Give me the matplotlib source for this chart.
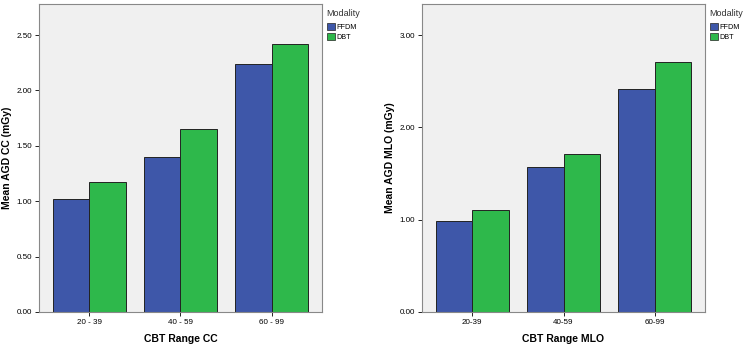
import numpy as np
import matplotlib
matplotlib.use("Agg")
import matplotlib.pyplot as plt
from matplotlib.patches import Patch

# CC view
cc_ranges = ["20 - 39", "40 - 59", "60 - 99"]
cc_ffdm = [1.02, 1.40, 2.24]
cc_dbt = [1.17, 1.65, 2.42]

# MLO view
mlo_ranges = ["20-39", "40-59", "60-99"]
mlo_ffdm = [0.99, 1.57, 2.41]
mlo_dbt = [1.11, 1.71, 2.71]

modalities = ["FFDM", "DBT"]
BLUE = "#3E57A9"
GREEN = "#2EB84B"

plt.rcParams['font.family'] = ['Arial', 'Liberation Sans', 'DejaVu Sans']


def draw_panel(ax, labels, ffdm, dbt, yticks, ymax, xlabel, ylabel):
    x = np.arange(len(labels))
    w = 0.397
    ax.set_facecolor("#F0F0F0")
    ax.bar(x - w / 2, ffdm, w, color=BLUE, edgecolor="#222222", linewidth=0.7, zorder=2)
    ax.bar(x + w / 2, dbt, w, color=GREEN, edgecolor="#222222", linewidth=0.7, zorder=2)
    ax.set_xlim(-0.552, len(labels) - 1 + 0.552)
    ax.set_ylim(0, ymax)
    ax.set_xticks(x)
    ax.set_xticklabels(labels, fontsize=5.8)
    ax.set_yticks(yticks)
    ax.set_yticklabels([f"{v:.2f}" for v in yticks], fontsize=5.8)
    ax.tick_params(length=3, width=0.7, color="#222222", pad=2)
    for s in ax.spines.values():
        s.set_color("#888888")
        s.set_linewidth(0.8)
    ax.set_xlabel(xlabel, fontsize=7.5, fontweight="bold", labelpad=6)
    ax.set_ylabel(ylabel, fontsize=7.5, fontweight="bold", labelpad=3)

    # legend: title placed by hand, entries below
    ax.text(1.015, 0.969, "Modality", transform=ax.transAxes, fontsize=6.5,
            ha="left", va="center", color="#333333")
    handles = [Patch(facecolor=BLUE, edgecolor="#222222", linewidth=0.5),
               Patch(facecolor=GREEN, edgecolor="#222222", linewidth=0.5)]
    ax.legend(handles, modalities, loc="upper left",
              bbox_to_anchor=(1.018, 0.937), frameon=False, fontsize=5.2,
              handlelength=1.1, handleheight=1.1, handletextpad=0.15,
              labelspacing=0.3, borderaxespad=0.0, borderpad=0.0)


fig = plt.figure(figsize=(7.46, 3.47), dpi=100)
ax1 = fig.add_axes([39 / 746, 35 / 347, 283 / 746, 308 / 347])
ax2 = fig.add_axes([422 / 746, 35 / 347, 283 / 746, 308 / 347])

draw_panel(ax1, cc_ranges, cc_ffdm, cc_dbt, [0, 0.5, 1.0, 1.5, 2.0, 2.5], 2.78,
           "CBT Range CC", "Mean AGD CC (mGy)")
draw_panel(ax2, mlo_ranges, mlo_ffdm, mlo_dbt, [0, 1.0, 2.0, 3.0], 3.336,
           "CBT Range MLO", "Mean AGD MLO (mGy)")

fig.savefig("out.png", dpi=100)
